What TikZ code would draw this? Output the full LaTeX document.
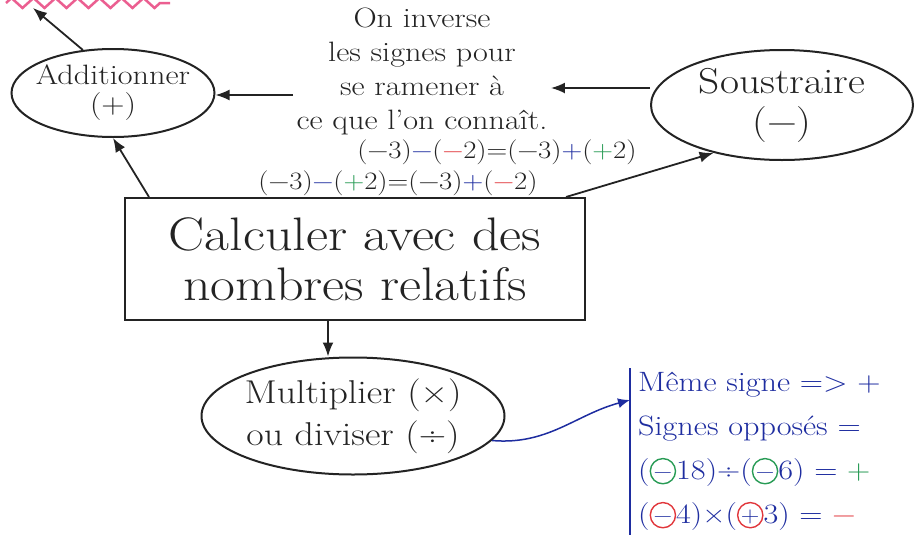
\documentclass[tikz,border=0pt]{standalone}
\usepackage{fontspec}
\setmainfont{Latin Modern Roman}[FakeStretch=1.15]
\usetikzlibrary{shapes.geometric,arrows.meta,decorations.pathmorphing}

\definecolor{encre}{RGB}{35,35,35}
\definecolor{bleu}{RGB}{30,45,160}
\definecolor{rouge}{RGB}{225,55,60}
\definecolor{vert}{RGB}{40,155,85}
\definecolor{rose}{RGB}{235,95,145}

\newcommand{\rond}[2]{\tikz[baseline={([yshift=-0.3em]s.center)}]\node[circle,draw=#1,line width=1.4pt,inner sep=0pt,minimum size=0.9em,text=bleu](s){\makebox[0pt]{\smash{\raisebox{-0.25em}{\scalebox{0.8}{#2}}}}};}

\begin{document}
\begin{tikzpicture}[x=1pt, y=-1pt,
    bulle/.style={ellipse, draw=encre, line width=2pt, text=encre, align=center, inner xsep=-15pt, inner ysep=0pt},
    cadre/.style={rectangle, draw=encre, line width=2pt, text=encre, align=center},
    fleche/.style={draw=encre, line width=1.8pt, -{Latex[length=14pt,width=11pt]}},
    formule/.style={text=encre, font=\fontsize{25}{27}\selectfont, inner sep=2pt},
    regle/.style={text=bleu, align=left, font=\fontsize{28}{44}\selectfont, inner xsep=8pt, inner ysep=4pt}]

  \useasboundingbox (0,0) rectangle (915,557);

  \node[bulle, minimum width=203, minimum height=88, font=\fontsize{28}{29}\selectfont] (additionner) at (113,93) {Additionner\\(+)};
  \node[bulle, minimum width=262, minimum height=110, font=\fontsize{36}{40}\selectfont] (soustraire) at (782,105) {Soustraire\\(−)};
  \node[cadre, minimum width=460, minimum height=122, font=\fontsize{47}{50}\selectfont] (calculer) at (355,259) {Calculer avec des\\nombres relatifs};
  \node[bulle, minimum width=303, minimum height=117, font=\fontsize{33}{42}\selectfont] (multiplier) at (353,416) {Multiplier (×)\\ou diviser (÷)};
  \node[text=encre, align=center, font=\fontsize{28}{34}\selectfont] (inverse) at (422,71) {On inverse\\les signes pour\\se ramener à\\ce que l'on connaît.};
  \node[formule] (eq_moins) at (497,152) {(−3)\textcolor{bleu}{−}(\textcolor{rouge}{−}2)=(−3)\textcolor{bleu}{+}(\textcolor{vert}{+}2)};
  \node[formule] (eq_plus) at (398,183) {(−3)\textcolor{bleu}{−}(\textcolor{vert}{+}2)=(−3)\textcolor{bleu}{+}(\textcolor{rouge}{−}2)};
  \node[regle, anchor=north west] (regles) at (630,368) {Même signe => +\\Signes opposés =\\(\rond{vert}{−}18)÷(\rond{vert}{−}6) = \textcolor{vert}{+}\\(\rond{rouge}{−}4)×(\rond{rouge}{+}3) = \textcolor{rouge}{−}};

  \coordinate (haut) at (33,8);
  \coordinate (ramener_e) at ([yshift=-17pt]inverse.east);
  \coordinate (ramener_w) at ([yshift=-24pt]inverse.west);

  \draw[rose, line width=2.5pt, decorate, decoration={zigzag, segment length=22pt, amplitude=5pt}] (6,3) -- (170,3);

  \draw[fleche] (additionner.125) -- (haut);
  \draw[fleche] (ramener_e -| soustraire.west) -- (ramener_e);
  \draw[fleche] (ramener_w) -- (ramener_w -| additionner.east);
  \draw[fleche] ([xshift=25pt]calculer.north west) -- (additionner.south);
  \draw[fleche] ([xshift=-20pt]calculer.north east) -- (soustraire.215);
  \draw[fleche] ([xshift=-27pt]calculer.south) -- ([xshift=-27pt]calculer.south |- multiplier.north);
  \draw[bleu, line width=2pt] (regles.north west) -- (regles.south west);
  \draw[bleu, line width=1.5pt, -{Latex[length=12pt,width=10pt]}] (multiplier.-10) to[out=-5, in=195] ([yshift=-32pt]regles.north west);

\end{tikzpicture}
\end{document}
